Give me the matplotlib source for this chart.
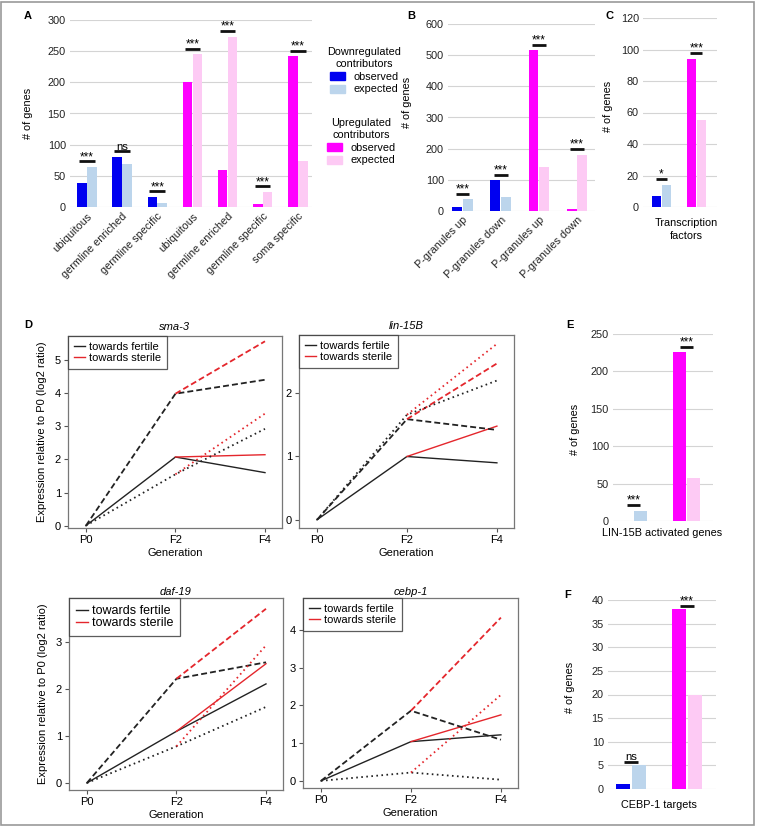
import matplotlib.pyplot as plt
import numpy as np
from matplotlib.patches import Patch, Rectangle
from matplotlib.lines import Line2D

plt.rcParams['font.family'] = ['Liberation Sans', 'DejaVu Sans']
plt.rcParams['font.size'] = 7.8

BLUE = '#0000f0'
LBLUE = '#bcd5ec'
MAG = '#ff00ff'
PINK = '#fdcaf4'
RED = '#e4262c'
GRID = '#d4d4d4'

# ---- bar data ----
a_labels = ["ubiquitous", "germline enriched", "germline specific",
            "ubiquitous", "germline enriched", "germline specific", "soma specific"]
a_obs = [38, 81, 16, 201, 59, 5, 242]
a_exp = [64, 69, 7, 245, 273, 24, 73]
a_up = [False, False, False, True, True, True, True]
a_sig = ["***", "ns", "***", "***", "***", "***", "***"]

b_labels = ["P-granules up", "P-granules down", "P-granules up", "P-granules down"]
b_obs = [13, 98, 515, 5]
b_exp = [37, 45, 140, 180]
b_up = [False, False, True, True]
b_sig = ["***", "***", "***", "***"]

c_obs = [7, 94]
c_exp = [14, 55]
c_sig = ["*", "***"]

e_obs = [0, 226]
e_exp = [14, 57]
e_sig = ["***", "***"]

f_obs = [1, 38]
f_exp = [5, 20]
f_sig = ["ns", "***"]

# ---- line data (solid, dashed, dotted) ----
gens = ["P0", "F2", "F4"]
sma3_fertile = [[0, 2.07, 1.60], [0, 3.98, 4.40], [0, 1.55, 2.92]]
sma3_sterile = [[2.07, 2.14], [3.98, 5.56], [1.55, 3.38]]
lin15b_fertile = [[0, 1.00, 0.90], [0, 1.59, 1.42], [0, 1.66, 2.20]]
lin15b_sterile = [[1.00, 1.48], [1.59, 2.47], [1.66, 2.78]]
daf19_fertile = [[0, 1.10, 2.11], [0, 2.22, 2.57], [0, 0.78, 1.62]]
daf19_sterile = [[1.10, 2.54], [2.22, 3.71], [0.78, 2.93]]
cebp1_fertile = [[0, 1.04, 1.22], [0, 1.86, 1.09], [0, 0.22, 0.03]]
cebp1_sterile = [[1.04, 1.75], [1.86, 4.33], [0.22, 2.28]]

W, H = 759, 826
fig = plt.figure(figsize=(W / 100, H / 100), dpi=100)


def rect(x0, y0, x1, y1):
    return [x0 / W, 1 - y1 / H, (x1 - x0) / W, (y1 - y0) / H]


def bar_panel(r, obs, exp, up, sig, ymax, ystep, xlim, width, off, sig_half,
              sig_off=0.03, labels=None, xlabel=None, xl_pos=None, yl_pos=(-0.2, 0.5)):
    ax = fig.add_axes(r)
    x = np.arange(len(obs))
    ax.bar(x - off, obs, width, color=[MAG if u else BLUE for u in up], zorder=3)
    ax.bar(x + off, exp, width, color=[PINK if u else LBLUE for u in up], zorder=3)
    for xi, o, e, s in zip(x, obs, exp, sig):
        h = max(o, e) + sig_off * ymax
        ax.plot([xi - sig_half, xi + sig_half], [h, h], color='#111111', lw=2.0,
                solid_capstyle='butt', zorder=4)
        ax.annotate(s, (xi, h), xytext=(0, 1.0), textcoords='offset points',
                    ha='center', va='baseline', fontsize=8.2 if s == "ns" else 8.5)
    ax.set_ylim(0, ymax)
    ax.set_xlim(*xlim)
    ax.set_yticks(np.arange(0, ymax + 1, ystep))
    ax.yaxis.grid(True, color=GRID, lw=0.8)
    ax.set_axisbelow(True)
    for sp in ax.spines.values():
        sp.set_visible(False)
    ax.tick_params(length=0, pad=3, labelcolor='#222222')
    if labels:
        ax.set_xticks(x)
        ax.set_xticklabels(labels, rotation=45, ha='right', rotation_mode='anchor')
    else:
        ax.set_xticks([])
    if xlabel:
        ax.set_xlabel(xlabel, linespacing=1.3)
        ax.xaxis.set_label_coords(*xl_pos)
    ax.set_ylabel("# of genes")
    ax.yaxis.set_label_coords(*yl_pos)
    return ax


axA = bar_panel(rect(70, 20, 312, 207), a_obs, a_exp, a_up, a_sig, 300, 50,
                (-0.48, 6.4), 0.27, 0.14, 0.22, yl_pos=(-0.153, 0.5), labels=a_labels)
axB = bar_panel(rect(448, 24, 595, 211), b_obs, b_exp, b_up, b_sig, 600, 100,
                (-0.38, 3.47), 0.26, 0.14, 0.18, yl_pos=(-0.245, 0.578), labels=b_labels)
axC = bar_panel(rect(643, 18, 717, 207), c_obs, c_exp, [False, True], c_sig, 120, 20,
                (-0.53, 1.59), 0.26, 0.15, 0.17, yl_pos=(-0.405, 0.53),
                xlabel="Transcription\nfactors", xl_pos=(0.58, -0.06))
axE = bar_panel(rect(613, 334, 713, 521), e_obs, e_exp, [False, True], e_sig, 250, 50,
                (-0.39, 1.5), 0.245, 0.135, 0.12, sig_off=0.028, yl_pos=(-0.33, 0.487),
                xlabel="LIN-15B activated genes", xl_pos=(0.49, -0.04))
axF = bar_panel(rect(608, 600, 716, 789), f_obs, f_exp, [False, True], f_sig, 40, 5,
                (-0.41, 1.52), 0.25, 0.15, 0.12, sig_off=0.02, yl_pos=(-0.306, 0.54),
                xlabel="CEBP-1 targets", xl_pos=(0.47, -0.06))

# legends for panel A
leg_kw = dict(loc='upper left', bbox_transform=fig.transFigure, frameon=False,
              borderpad=0, handlelength=1.3, handleheight=0.8, handletextpad=0.8,
              labelspacing=0.25, fontsize=7.8, title_fontsize=7.8)
leg1 = axA.legend([Patch(color=BLUE), Patch(color=LBLUE)], ["observed", "expected"],
                  title="Downregulated\ncontributors", bbox_to_anchor=(322 / W, 1 - 42 / H), **leg_kw)
axA.add_artist(leg1)
leg2 = axA.legend([Patch(color=MAG), Patch(color=PINK)], ["observed", "expected"],
                  title="Upregulated\ncontributors", bbox_to_anchor=(322 / W, 1 - 113 / H), **leg_kw)
for lg in (leg1, leg2):
    lg.get_title().set_multialignment('center')


# ---- line panels ----
styles = [('-', 1.0), ((0, (3.3, 1.7)), 1.3), ((0, (0.9, 1.9)), 1.3)]


def line_panel(r, title, fertile, sterile, ylim, yticks, ylabel=False, leg_fs=8,
               title_pad=4):
    ax = fig.add_axes(r)
    x = np.arange(len(gens))
    for (ls, lw), fy, sy in zip(styles, fertile, sterile):
        ax.plot(x, fy, color='#222222', ls=ls, lw=lw)
        ax.plot(x[1:], sy, color=RED, ls=ls, lw=lw)
    ax.set_xlim(-0.2, 2.19)
    ax.set_ylim(*ylim)
    ax.set_xticks(x)
    ax.set_xticklabels(gens)
    ax.set_yticks(yticks)
    ax.tick_params(length=3, width=0.8, color='#555555', pad=2, labelsize=8)
    for sp in ax.spines.values():
        sp.set_color('#777777')
        sp.set_linewidth(0.9)
    ax.set_title(title, style='italic', fontsize=8, pad=title_pad)
    ax.set_xlabel("Generation", fontsize=8, labelpad=2)
    if ylabel:
        ax.set_ylabel("Expression relative to P0 (log2 ratio)", fontsize=8)
        ax.yaxis.set_label_coords(-0.098, 0.5)
    handles = [Line2D([], [], color='#222222', lw=1), Line2D([], [], color=RED, lw=1)]
    lg = ax.legend(handles, ["towards fertile", "towards sterile"], loc='upper left',
                   borderaxespad=0, fancybox=False, edgecolor='#333333', fontsize=leg_fs,
                   handlelength=1.0, handletextpad=0.3, labelspacing=0.05, borderpad=0.55)
    lg.get_frame().set_linewidth(0.9)
    return ax


line_panel(rect(68, 336, 282, 528), "sma-3", sma3_fertile, sma3_sterile,
           (-0.07, 5.72), range(6), ylabel=True)
line_panel(rect(299, 335, 514, 528), "lin-15B", lin15b_fertile, lin15b_sterile,
           (-0.13, 2.92), range(3))
line_panel(rect(69, 598, 283, 790), "daf-19", daf19_fertile, daf19_sterile,
           (-0.15, 3.94), range(4), ylabel=True, leg_fs=9, title_pad=2)
line_panel(rect(303, 598, 518, 788), "cebp-1", cebp1_fertile, cebp1_sterile,
           (-0.19, 4.85), range(5), title_pad=2.5)

# panel letters
for lab, px, py in [("A", 28, 16), ("B", 411, 16), ("C", 610, 16), ("D", 28, 325),
                    ("E", 570, 325), ("F", 568, 595)]:
    fig.text(px / W, 1 - py / H, lab, fontweight='bold', fontsize=8, ha='center', va='center')

fig.patches.append(Rectangle((1 / W, 1 / H), 753 / W, 823 / H, transform=fig.transFigure,
                             fill=False, ec='#999999', lw=1.2))

fig.savefig("out.png", dpi=100)
